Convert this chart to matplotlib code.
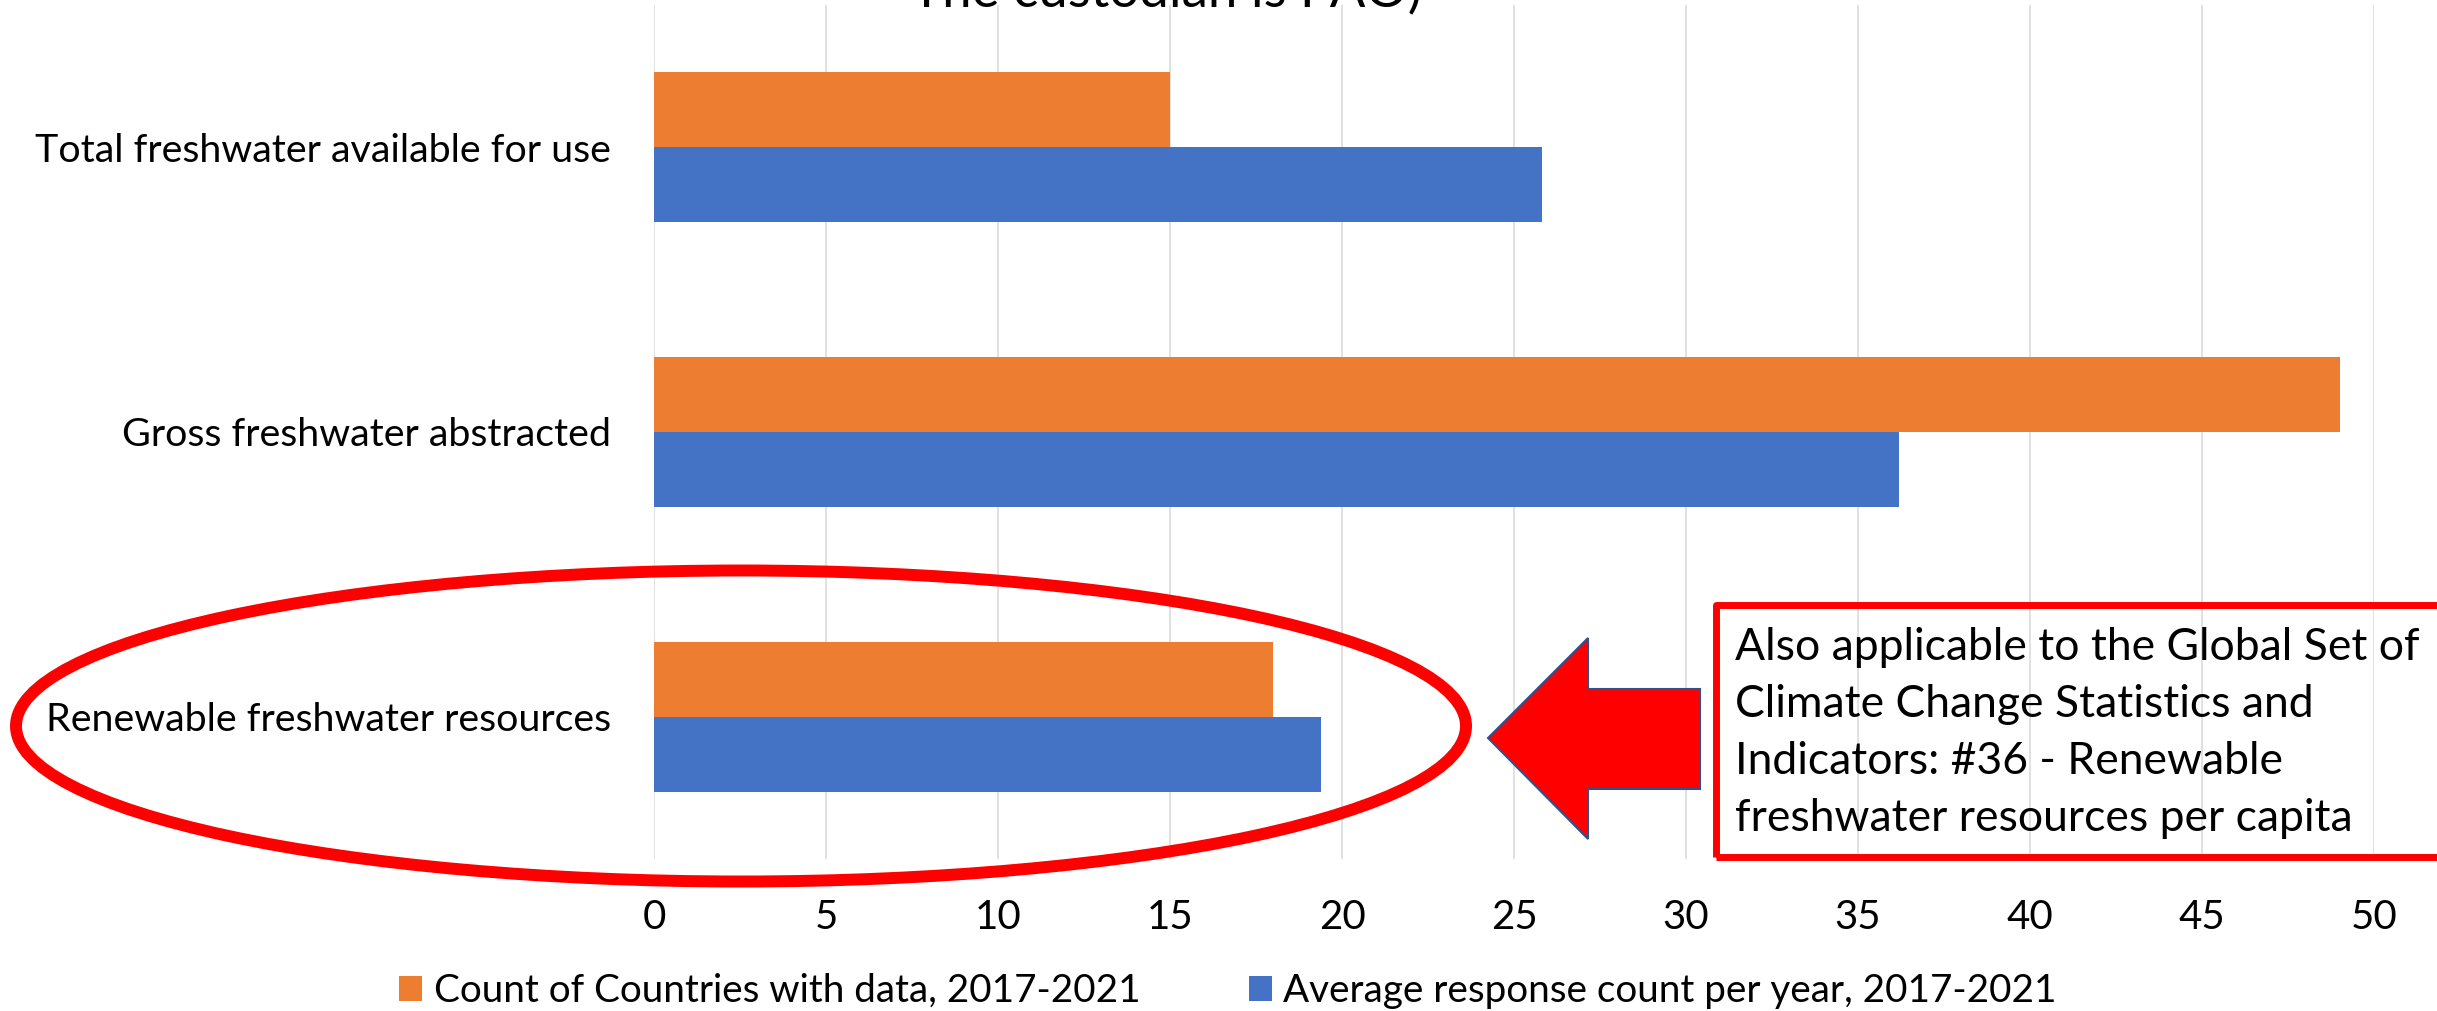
import numpy as np
import matplotlib
matplotlib.use("Agg")
import matplotlib.pyplot as plt
from matplotlib.patches import Ellipse, Polygon, Rectangle

plt.rcParams['font.family'] = ['Lato', 'DejaVu Sans']

# ---- data ----
categories = ["Renewable freshwater resources",
              "Gross freshwater abstracted",
              "Total freshwater available for use"]
count_countries = [18, 49, 15]
avg_response = [19.4, 36.2, 25.8]
series_names = ["Count of Countries with data, 2017-2021",
                "Average response count per year, 2017-2021"]
xticks = [0, 5, 10, 15, 20, 25, 30, 35, 40, 45, 50]
note_lines = ["Also applicable to the Global Set of",
              "Climate Change Statistics and",
              "Indicators: #36 - Renewable",
              "freshwater resources per capita"]
title_tail = "The custodian is FAO)"

ORANGE = "#ED7D31"
BLUE = "#4472C4"

W, H = 2437, 1011
fig = plt.figure(figsize=(W / 100, H / 100), dpi=100)


def fx(x):
    return x / W


def fy(y):
    return 1 - y / H


ax = fig.add_axes([fx(654), fy(859), fx(2374) - fx(654), fy(5) - fy(859)])
y = np.arange(len(categories))
h = 0.263
b1 = ax.barh(y + h / 2, count_countries, h, color=ORANGE, label=series_names[0])
b2 = ax.barh(y - h / 2, avg_response, h, color=BLUE, label=series_names[1])
ax.set_xlim(0, 50)
ax.set_ylim(-0.5, 2.5)
ax.set_xticks(xticks)
ax.set_xticklabels([str(t) for t in xticks], fontsize=29)
ax.set_yticks(y)
ax.set_yticklabels(categories, fontsize=28.4)
ax.set_axisbelow(True)
ax.grid(axis='x', color='#D9D9D9', linewidth=1.1)
for s in ax.spines.values():
    s.set_visible(False)
ax.tick_params(axis='both', length=0)
ax.tick_params(axis='y', pad=31)
ax.tick_params(axis='x', pad=29)

# clipped title remnant
fig.text(fx(1166), fy(7), title_tail, ha='center', va='baseline', fontsize=38)

# legend
fig.legend([b1, b2], series_names, loc='center', bbox_to_anchor=(fx(1228), fy(991)),
           ncol=2, frameon=False, fontsize=27.8, handlelength=0.6, handleheight=0.6,
           handletextpad=0.3, columnspacing=2.8, borderaxespad=0, borderpad=0)

# ellipse highlight
fig.add_artist(Ellipse((fx(741), fy(726)), fx(1450), 311 / H, fill=False,
                       edgecolor='#FF0000', linewidth=8.6, transform=fig.transFigure, zorder=5))

# block arrow
arrow_px = [(1488, 738), (1588, 638), (1588, 689), (1700, 689),
            (1700, 789), (1588, 789), (1588, 839)]
fig.add_artist(Polygon([(fx(a), fy(b)) for a, b in arrow_px], closed=True,
                       facecolor='#FF0000', edgecolor='#2F528F', linewidth=1.5,
                       transform=fig.transFigure, zorder=5))

# note box
fig.add_artist(Rectangle((fx(1716), fy(857)), fx(900), (857 - 605) / H, fill=False,
                         edgecolor='#FF0000', linewidth=5, joinstyle='round',
                         transform=fig.transFigure, zorder=5))
for i, line in enumerate(note_lines):
    fig.text(fx(1735), fy(660 + 57 * i), line, ha='left', va='baseline',
             fontsize=32, zorder=6)

fig.savefig("out.png", dpi=100)
